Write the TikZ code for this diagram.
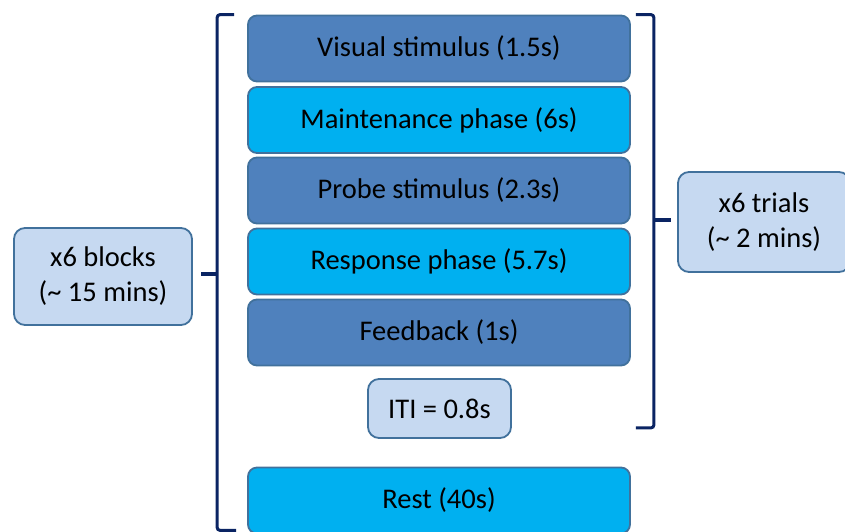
\documentclass[tikz,border=0pt]{standalone}
\usepackage{fontspec}
\setmainfont{Carlito}
\usetikzlibrary{positioning,calc}

\definecolor{phasedark}{HTML}{4F81BD}
\definecolor{phaselight}{HTML}{00B0F0}
\definecolor{infofill}{HTML}{C6D9F1}
\definecolor{boxedge}{HTML}{41719C}
\definecolor{navy}{HTML}{0A2463}

\tikzset{
    phase/.style={draw=boxedge, line width=1.8pt, rounded corners=9pt,
        minimum width=382pt, minimum height=66pt, font=\fontsize{28.5}{34}\selectfont},
    dark/.style={phase, fill=phasedark},
    light/.style={phase, fill=phaselight},
    info/.style={draw=boxedge, line width=1.8pt, rounded corners=11pt, fill=infofill,
        align=center, font=\fontsize{28.5}{35}\selectfont},
    brace/.style={draw=navy, line width=3pt, rounded corners=3pt}
}

\begin{document}
\begin{tikzpicture}[x=1pt,y=-1pt]
        \useasboundingbox (0,0) rectangle (845,531);
        \clip (0,0) rectangle (845,531);

        % one trial
        \node[dark]  (vis)   at (439,48.5)  {Visual stimulus (1.5s)};
        \node[light] (maint) at (439,120)   {Maintenance phase (6s)};
        \node[dark]  (probe) at (439,190.5) {Probe stimulus (2.3s)};
        \node[light] (resp)  at (439,261.5) {Response phase (5.7s)};
        \node[dark]  (feed)  at (439,332.5) {Feedback (1s)};
        \node[info, minimum width=143pt, minimum height=59pt] (iti) at (439.5,408.5) {ITI = 0.8s};
        \node[light] (rest)  at (439,500.5) {Rest (40s)};

        % repetitions
        \node[info, minimum width=178pt, minimum height=97pt] (blocks) at (103,276.5)
            {x6 blocks\\(\char`\~\ 15 mins)};
        \node[info, minimum width=172pt, minimum height=100pt] (trials) at (764,222)
            {x6 trials\\(\char`\~\ 2 mins)};

        % brace round the blocks
        \coordinate (lt) at ($(vis.north west)+(-13,0)$);
        \coordinate (lb) at ($(rest.south west)+(-11,-4)$);
        \draw[brace] (lt) -- ($(vis.north west)+(-30,0)$) -- ($(rest.south west)+(-30,-4)$) -- (lb);
        \draw[brace, line width=3.6pt] ($(vis.west |- blocks.east)+(-30,-2.5)$) -- ($(blocks.east)+(8,-2.5)$);

        % brace round the trials
        \coordinate (rt) at ($(vis.north east)+(5,0)$);
        \coordinate (rb) at ($(vis.east |- iti.south)+(5,-11)$);
        \draw[brace] (rt) -- ($(vis.north east)+(23,0)$) -- ($(vis.east |- iti.south)+(23,-11)$) -- (rb);
        \draw[brace, line width=3.6pt] ($(vis.east |- trials.west)+(23,-2)$) -- ($(trials.west)+(-6,-2)$);
    \end{tikzpicture}
\end{document}
